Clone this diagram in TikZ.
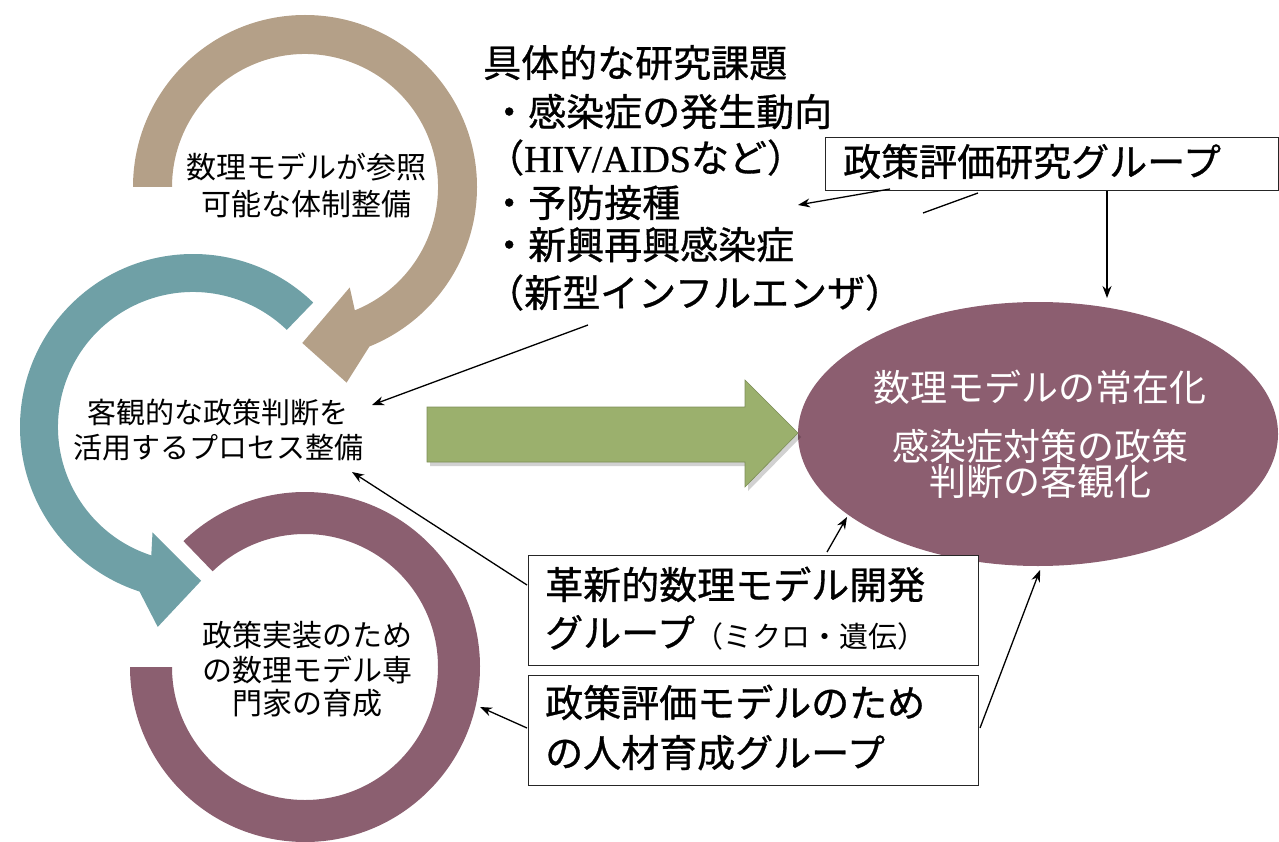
\documentclass[tikz,border=0pt]{standalone}
\usepackage{fontspec}
\newfontfamily\jp{Noto Sans CJK JP}
\newfontfamily\jpb{Noto Sans CJK JP}[FakeBold=0.8]
\newfontfamily\ser{Liberation Serif}[FakeBold=0.8]
\usetikzlibrary{shapes.geometric,arrows.meta,calc}
\definecolor{tanc}{HTML}{B4A088}
\definecolor{tealc}{HTML}{6FA0A6}
\definecolor{maroonc}{HTML}{8B5F70}
\definecolor{greenc}{HTML}{9BB06D}
\definecolor{ellc}{HTML}{8C5E70}
\begin{document}
\begin{tikzpicture}[x=1pt,y=-1pt,
  lst/.style={anchor=base west,inner sep=0pt,font=\jpb\fontsize{38}{44}\selectfont},
  ring/.style={anchor=base,inner sep=0pt,font=\jp\fontsize{30}{34}\selectfont},
  ringsm/.style={anchor=base,inner sep=0pt,font=\jp\fontsize{29}{34}\selectfont},
  elltxt/.style={anchor=base,inner sep=0pt,text=white,font=\jp\fontsize{37}{40}\selectfont},
  boxtxt/.style={anchor=base west,inner sep=0pt,font=\jpb\fontsize{38}{44}\selectfont},
  grpbox/.style={draw=black!85,line width=1.3pt,fill=white,rectangle,anchor=north west,inner sep=0pt},
  conn/.style={draw=black,line width=1.3pt,-{Stealth[length=12pt,width=9pt]}},
]
\useasboundingbox (0,0) rectangle (1279,842);

% ---- ring arrows ----
\coordinate (tanC) at (305,187);
\coordinate (tealC) at (193,427);
\coordinate (marC) at (305,667);

\fill[maroonc] ($(marC)+(-134:175)$) arc[start angle=-134,end angle=180,radius=175]
  -- ($(marC)+(180:133)$) arc[start angle=180,end angle=-134,radius=133] -- cycle;

\fill[tanc] ($(tanC)+(-180:172)$) arc[start angle=-180,end angle=68,radius=172]
  -- ($(tanC)+(78:200)$) -- ($(tanC)+(91:156)$) -- ($(tanC)+(66:110)$)
  -- ($(tanC)+(68:133)$) arc[start angle=68,end angle=-180,radius=133] -- cycle;

\fill[tealc] ($(tealC)+(-46:173)$) arc[start angle=-46,end angle=-252,radius=173]
  -- ($(tealC)+(-260:203)$) -- ($(tealC)+(-273:154)$) -- ($(tealC)+(-249:113)$)
  -- ($(tealC)+(-252:135)$) arc[start angle=-252,end angle=-46,radius=135] -- cycle;

% ---- goal ellipse ----
\node[ellipse,fill=ellc,minimum width=480pt,minimum height=264pt,inner sep=0pt] (goal) at (1038,434) {};
\node[elltxt] (g1) at (1040,401) {数理モデルの常在化};
\node[elltxt] (g2) at (1040,460) {感染症対策の政策};
\node[elltxt] (g3) at (1040,495) {判断の客観化};

% ---- green block arrow ----
\fill[black,opacity=0.18] (430,411) -- (748,411) -- (748,384) -- (801,437) -- (748,491) -- (748,466) -- (430,466) -- cycle;
\fill[greenc,draw=greenc!80!black,line width=0.6pt] (427,407) -- (745,407) -- (745,380) -- (798,433) -- (745,487) -- (745,462) -- (427,462) -- cycle;

% ---- ring texts ----
\node[ring] (t1a) at (306,179) {数理モデルが参照};
\node[ring] (t1b) at (306,216) {可能な体制整備};
\node[ringsm] (t2a) at (218,423) {客観的な政策判断を};
\node[ringsm] (t2b) at (218,458) {活用するプロセス整備};
\node[ring] (t3a) at (307,646) {政策実装のため};
\node[ring] (t3b) at (307,681) {の数理モデル専};
\node[ring] (t3c) at (307,714) {門家の育成};

% ---- research topics ----
\node[lst] (l1) at (483,77) {具体的な研究課題};
\node[lst] (l2) at (490,126) {・感染症の発生動向};
\node[lst] (l3) at (486,172) {（{\ser HIV/AIDS}など）};
\node[lst] (l4) at (490,217) {・予防接種};
\node[lst] (l5) at (490,259) {・新興再興感染症};
\node[lst] (l6) at (486,307) {（新型インフルエンザ）};

% ---- group boxes ----
\node[grpbox,minimum width=453pt,minimum height=53pt] (prb) at (825,137) {};
\node[boxtxt] (prbt) at (843,176) {政策評価研究グループ};

\node[grpbox,minimum width=450pt,minimum height=110pt] (dev) at (528,555) {};
\node[boxtxt] (devt1) at (545,599) {革新的数理モデル開発};
\node[boxtxt] (devt2) at (545,647) {グループ{\jp\fontsize{29}{34}\selectfont （ミクロ・遺伝）}};

\node[grpbox,minimum width=450pt,minimum height=110pt] (hr) at (528,675) {};
\node[boxtxt] (hrt1) at (545,717) {政策評価モデルのため};
\node[boxtxt] (hrt2) at (545,767) {の人材育成グループ};

% ---- connector end points ----
\coordinate (a1s) at (890,189);
\coordinate (a1e) at (798,205);
\coordinate (s1) at (978,193);
\coordinate (s2) at (923,213);
\coordinate (a3s) at (1107,191);
\coordinate (a3e) at (1107,298);
\coordinate (a4s) at (588,325);
\coordinate (a4e) at (372,405);
\coordinate (a5s) at (527,585);
\coordinate (a5e) at (352,472);
\coordinate (a6s) at (527,728);
\coordinate (a6e) at (480,707);
\coordinate (a7s) at (827,552);
\coordinate (a7e) at (847,517);
\coordinate (a8s) at (980,728);
\coordinate (a8e) at (1040,570);

\draw[conn] (a1s) -- (a1e);
\draw[draw=black,line width=1.3pt] (s1) -- (s2);
\draw[conn] (a3s) -- (a3e);
\draw[conn] (a4s) -- (a4e);
\draw[conn] (a5s) -- (a5e);
\draw[conn] (a6s) -- (a6e);
\draw[conn] (a7s) -- (a7e);
\draw[conn] (a8s) -- (a8e);
\end{tikzpicture}
\end{document}
